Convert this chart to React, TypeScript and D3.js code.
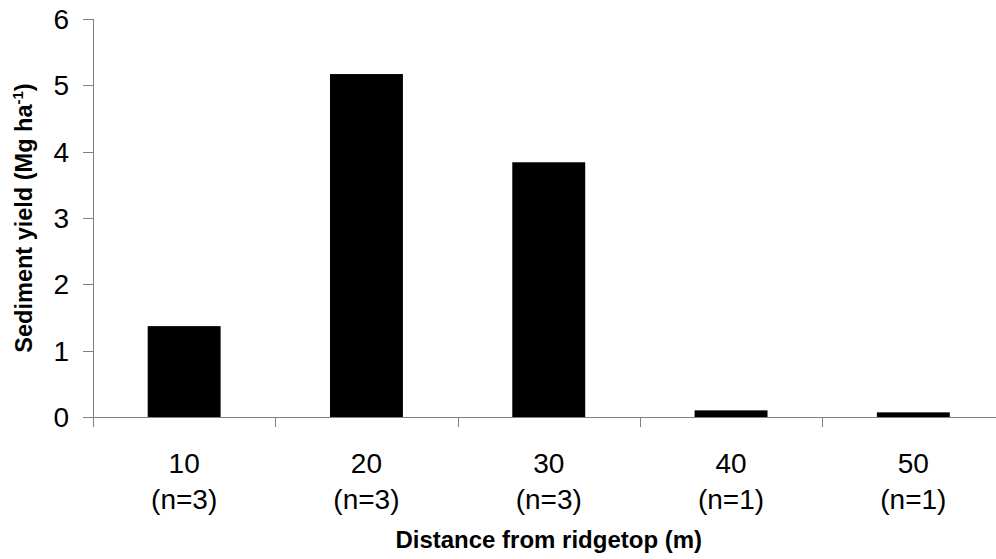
import React, { useEffect, useRef } from 'react';
import * as d3 from 'd3';

const distances = ['10', '20', '30', '40', '50'];
const sampleCounts = ['(n=3)', '(n=3)', '(n=3)', '(n=1)', '(n=1)'];
const sedimentYield = [1.37, 5.17, 3.84, 0.1, 0.07];
const yTicks = [0, 1, 2, 3, 4, 5, 6];

const width = 996;
const height = 559;
const font = 'Arial, "Liberation Sans", sans-serif';
const axisColor = '#808080';

export default function App() {
    const ref = useRef<SVGSVGElement>(null);

    useEffect(() => {
        const svg = d3.select(ref.current);
        svg.selectAll('*').remove();

        const left = 93, right = 1004.5, top = 19, bottom = 417;

        const x = d3.scaleBand<string>()
            .domain(distances)
            .range([left, right])
            .paddingInner(0.6)
            .paddingOuter(0.3);
        const y = d3.scaleLinear().domain([0, 6]).range([bottom, top]);

        const step = x.step();

        // bars
        svg.append('g')
            .selectAll('rect')
            .data(sedimentYield)
            .enter()
            .append('rect')
            .attr('x', (d, i) => x(distances[i])!)
            .attr('width', x.bandwidth())
            .attr('y', d => y(d))
            .attr('height', d => y(0) - y(d))
            .attr('fill', '#000');

        // y axis
        const ya = svg.append('g');
        ya.append('line')
            .attr('x1', left + 0.5).attr('x2', left + 0.5)
            .attr('y1', y(6)).attr('y2', y(0) + 10)
            .attr('stroke', axisColor);
        ya.selectAll('line.tick')
            .data(yTicks)
            .enter()
            .append('line')
            .attr('class', 'tick')
            .attr('x1', left - 10).attr('x2', left)
            .attr('y1', d => Math.round(y(d)) + 0.5)
            .attr('y2', d => Math.round(y(d)) + 0.5)
            .attr('stroke', axisColor);
        ya.selectAll('text')
            .data(yTicks)
            .enter()
            .append('text')
            .attr('x', 69)
            .attr('y', d => y(d))
            .attr('dy', '0.36em')
            .attr('text-anchor', 'end')
            .style('font-family', font)
            .style('font-size', '28px')
            .text(d => d);

        // x axis
        const xa = svg.append('g');
        xa.append('line')
            .attr('x1', left).attr('x2', right)
            .attr('y1', bottom + 0.5).attr('y2', bottom + 0.5)
            .attr('stroke', axisColor);
        xa.selectAll('line.tick')
            .data(d3.range(distances.length + 1))
            .enter()
            .append('line')
            .attr('class', 'tick')
            .attr('x1', i => Math.round(x(distances[0])! - step * 0.3 + i * step) + 0.5)
            .attr('x2', i => Math.round(x(distances[0])! - step * 0.3 + i * step) + 0.5)
            .attr('y1', bottom).attr('y2', bottom + 10)
            .attr('stroke', axisColor);
        const labels = xa.selectAll('text.cat')
            .data(distances)
            .enter()
            .append('text')
            .attr('class', 'cat')
            .attr('text-anchor', 'middle')
            .style('font-family', font)
            .style('font-size', '28px');
        labels.append('tspan')
            .attr('x', d => x(d)! + x.bandwidth() / 2)
            .attr('y', 473)
            .text(d => d);
        labels.append('tspan')
            .attr('x', d => x(d)! + x.bandwidth() / 2)
            .attr('y', 509)
            .text((d, i) => sampleCounts[i]);

        // axis titles
        svg.append('text')
            .attr('x', (left + right) / 2)
            .attr('y', 548)
            .attr('text-anchor', 'middle')
            .style('font-family', font)
            .style('font-size', '24px')
            .style('font-weight', 'bold')
            .text('Distance from ridgetop (m)');

        const yt = svg.append('text')
            .attr('transform', `translate(32, ${(top + bottom) / 2}) rotate(-90)`)
            .attr('text-anchor', 'middle')
            .style('font-family', font)
            .style('font-size', '23.5px')
            .style('font-weight', 'bold');
        yt.append('tspan').text('Sediment yield (Mg ha');
        yt.append('tspan').attr('dy', -9).style('font-size', '15px').text('-1');
        yt.append('tspan').attr('dy', 9).text(')');
    }, []);

    return (
        <svg
            ref={ref}
            width={width}
            height={height}
            style={{ position: 'absolute', left: 0, top: 0, background: '#fff' }}
        />
    );
}
